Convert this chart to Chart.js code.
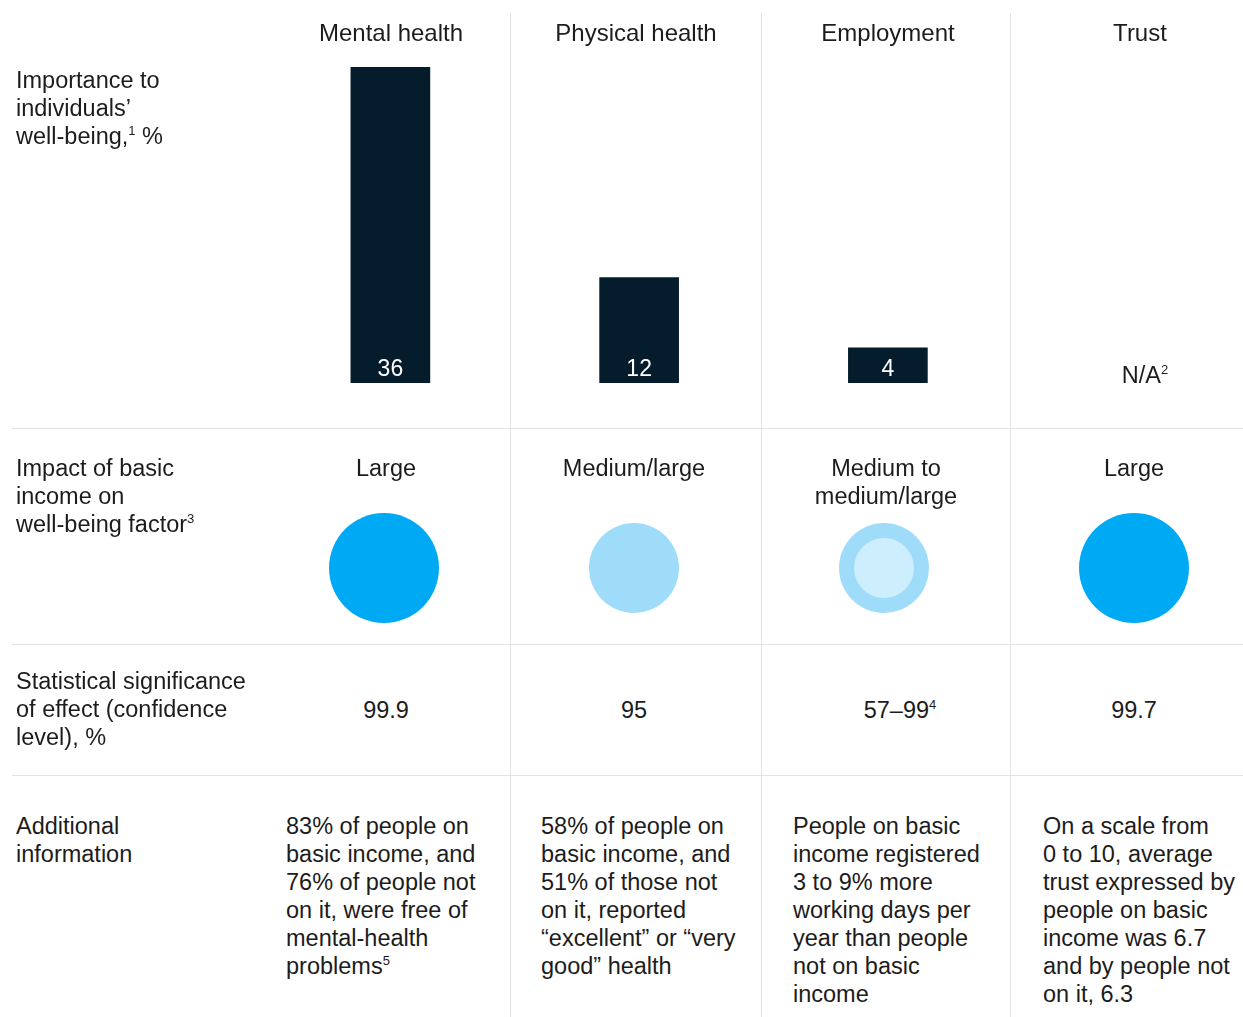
<!DOCTYPE html>
<html>
<head>
<meta charset="utf-8">
<script src="https://cdn.jsdelivr.net/npm/chart.js@4.4.1/dist/chart.umd.min.js"></script>
<style>
body{margin:0;background:#fff;width:1243px;height:1017px;overflow:hidden;position:relative;font-family:"Liberation Sans",Arial,sans-serif;color:#1c1c1c}
.t{position:absolute;font-size:23.5px;line-height:28px;white-space:nowrap}
.h{font-size:24px}
.c{text-align:center;transform:translateX(-50%)}
.s{font-size:13px;vertical-align:9px;line-height:0}
.vl{position:absolute;top:13px;bottom:0;width:1px;background:#e3e3e3}
.hl{position:absolute;left:12px;right:0;height:1px;background:#e3e3e3}
canvas{position:absolute;left:0}
</style>
</head>
<body>
<div class="vl" style="left:510px"></div>
<div class="vl" style="left:761px"></div>
<div class="vl" style="left:1010px"></div>
<div class="hl" style="top:428px"></div>
<div class="hl" style="top:644px"></div>
<div class="hl" style="top:775px"></div>

<canvas id="bars" width="1300" height="428" style="top:0"></canvas>
<canvas id="bubbles" width="1300" height="200" style="top:468px"></canvas>
<div id="txt"></div>

<script>
// columns and values
const categories = ['Mental health', 'Physical health', 'Employment', 'Trust'];
const importance = [36, 12, 4, null];
const importanceNA = [null, null, null, 'N/A<span class="s">2</span>'];
const impactLabels = ['Large', 'Medium/large', 'Medium to<br>medium/large', 'Large'];
const impactOuter = ['Large', 'Medium/large', 'Medium/large', 'Large'];
const impactInner = [null, null, 'Medium', null];
const significance = ['99.9', '95', '57–99<span class="s">4</span>', '99.7'];
const notes = [
  '83% of people on<br>basic income, and<br>76% of people not<br>on it, were free of<br>mental-health<br>problems<span class="s">5</span>',
  '58% of people on<br>basic income, and<br>51% of those not<br>on it, reported<br>“excellent” or “very<br>good” health',
  'People on basic<br>income registered<br>3 to 9% more<br>working days per<br>year than people<br>not on basic<br>income',
  'On a scale from<br>0 to 10, average<br>trust expressed by<br>people on basic<br>income was 6.7<br>and by people not<br>on it, 6.3'
];
const rowLabels = [
  'Importance to<br>individuals’<br>well-being,<span class="s">1</span> %',
  'Impact of basic<br>income on<br>well-being factor<span class="s">3</span>',
  'Statistical significance<br>of effect (confidence<br>level), %',
  'Additional<br>information'
];

const radius = {'Large': 55, 'Medium/large': 45, 'Medium': 30};
const colour = {'Large': '#00a9f4', 'Medium/large': '#9fdcfa', 'Medium': '#cdeefd'};

// text
const txt = document.getElementById('txt');
function put(html, x, y, cls) {
  const d = document.createElement('div');
  d.className = 't ' + cls;
  d.style.left = x + 'px';
  d.style.top = y + 'px';
  d.innerHTML = html;
  txt.appendChild(d);
}
const headX = [391, 636, 888, 1140];
const cellX = [386, 634, 886, 1134];
const noteX = [286, 541, 793, 1043];
const rowY = [66, 454, 667, 812];
rowLabels.forEach((l, i) => put(l, 16, rowY[i], ''));
categories.forEach((c, i) => put(c, headX[i], 19, 'c h'));
importanceNA.forEach((n, i) => { if (n) put(n, cellX[i] + 11, 361, 'c'); });
impactLabels.forEach((l, i) => put(l, cellX[i], 454, 'c'));
significance.forEach((s, i) => put(s, cellX[i] + (i == 2 ? 14 : 0), 696, 'c'));
notes.forEach((n, i) => put(n, noteX[i], 812, ''));

const barLabels = {
  id: 'barLabels',
  afterDatasetsDraw(chart) {
    const ctx = chart.ctx;
    chart.getDatasetMeta(0).data.forEach((bar, i) => {
      if (importance[i] == null) return;
      ctx.save();
      ctx.fillStyle = '#ffffff';
      ctx.font = '23px "Liberation Sans", Arial, sans-serif';
      ctx.textAlign = 'center';
      ctx.fillText(importance[i], bar.x, bar.base - 7);
      ctx.restore();
    });
  }
};

new Chart(document.getElementById('bars'), {
  type: 'bar',
  data: {
    labels: categories,
    datasets: [{
      data: importance,
      backgroundColor: '#051c2c',
      barThickness: 79
    }]
  },
  options: {
    responsive: false,
    animation: false,
    layout: {padding: {left: 266, right: 39, top: 67, bottom: 45}},
    plugins: {legend: {display: false}, tooltip: {enabled: false}},
    scales: {
      x: {display: false},
      y: {display: false, min: 0, max: 36}
    }
  },
  plugins: [barLabels]
});

const innerPoints = [];
const innerColours = [];
categories.forEach((c, i) => {
  if (impactInner[i]) {
    innerPoints.push({x: c, y: 0.5, r: radius[impactInner[i]]});
    innerColours.push(colour[impactInner[i]]);
  }
});

new Chart(document.getElementById('bubbles'), {
  type: 'bubble',
  data: {
    labels: categories,
    datasets: [
      {
        data: innerPoints,
        backgroundColor: innerColours,
        borderWidth: 0,
        clip: false,
        order: 0
      },
      {
        data: categories.map((c, i) => ({x: c, y: 0.5, r: radius[impactOuter[i]]})),
        backgroundColor: impactOuter.map(v => colour[v]),
        borderWidth: 0,
        clip: false,
        order: 1
      }
    ]
  },
  options: {
    responsive: false,
    animation: false,
    layout: {autoPadding: false, padding: {left: 259, right: 41, top: 0, bottom: 0}},
    plugins: {legend: {display: false}, tooltip: {enabled: false}},
    scales: {
      x: {type: 'category', offset: true, display: false},
      y: {display: false, min: 0, max: 1}
    }
  }
});
</script>
</body>
</html>
